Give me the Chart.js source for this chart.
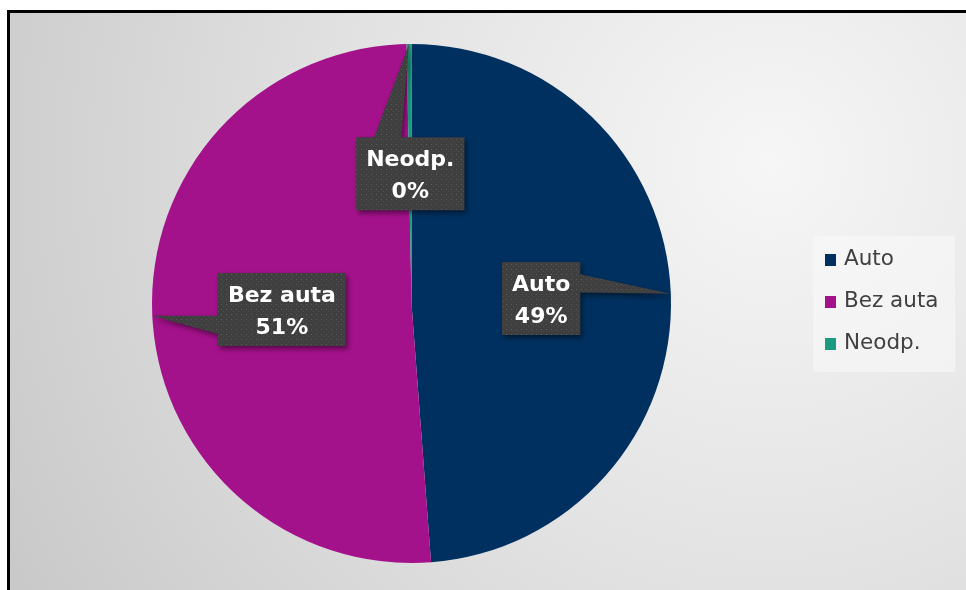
<!DOCTYPE html>
<html>
<head>
<meta charset="utf-8">
<script src="https://cdn.jsdelivr.net/npm/chart.js@4"></script>
<style>
  html, body { margin: 0; padding: 0; width: 966px; height: 590px; overflow: hidden; background: #fff; }
  #frame {
    position: absolute; left: 7px; top: 10px; width: 956px; height: 577px;
    border-left: 3px solid #000; border-top: 3px solid #000;
    background: radial-gradient(circle 950px at 760px 150px, #f6f6f6 0%, #e2e2e2 45%, #c4c4c4 100%);
  }
  #chartBox { position: absolute; left: 0; top: 0; width: 956px; height: 577px; }
  #legend {
    position: absolute; left: 803px; top: 223px; width: 142px; height: 136px;
    background: rgba(250, 250, 250, 0.55);
    font-family: "DejaVu Sans", sans-serif; font-size: 21.5px; color: #404040;
  }
  .item { position: absolute; left: 12px; height: 30px; line-height: 30px; white-space: nowrap; }
  .swatch { display: inline-block; width: 11px; height: 12px; margin-right: 8px; vertical-align: -1px; }
</style>
</head>
<body>
<div id="frame">
  <div id="chartBox"><canvas id="pieChart" width="956" height="577"></canvas></div>
  <div id="legend"></div>
</div>
<script>
const categories = ["Auto", "Bez auta", "Neodp."];
const shares = [48.8, 50.9, 0.3];
const sliceColors = ["#00305f", "#a3118b", "#1c9a7f"];

const legendEl = document.getElementById("legend");
legendEl.innerHTML = categories.map((name, i) =>
  `<div class="item" style="top:${7 + i * 42}px"><span class="swatch" style="background:${sliceColors[i]}"></span>${name}</div>`
).join("");

function dotPattern(ctx) {
  const tile = document.createElement("canvas");
  tile.width = 5;
  tile.height = 5;
  const t = tile.getContext("2d");
  t.fillStyle = "#3f3f3f";
  t.fillRect(0, 0, 5, 5);
  t.fillStyle = "#5c5c5c";
  t.fillRect(1, 1, 1, 1);
  t.fillStyle = "#4d4d4d";
  t.fillRect(3, 3, 1, 1);
  return ctx.createPattern(tile, "repeat");
}

// Excel style wedge callout: box centred halfway out, wedge points at the slice edge
const calloutPlugin = {
  id: "callouts",
  afterDatasetsDraw(chart) {
    const ctx = chart.ctx;
    const meta = chart.getDatasetMeta(0);
    const total = shares.reduce((a, b) => a + b, 0);
    const fill = dotPattern(ctx);
    const font = "bold 22px 'DejaVu Sans'";
    const lineH = 32;
    const padY = 4.5;
    const padX = 10;

    meta.data.forEach((arc, i) => {
      const p = arc.getProps(["x", "y", "startAngle", "endAngle", "outerRadius"], true);
      const mid = (p.startAngle + p.endAngle) / 2;
      const tipX = p.x + Math.cos(mid) * p.outerRadius;
      const tipY = p.y + Math.sin(mid) * p.outerRadius;
      const cx = p.x + Math.cos(mid) * p.outerRadius * 0.5;
      const cy = p.y + Math.sin(mid) * p.outerRadius * 0.5;

      const lines = [categories[i], Math.round(shares[i] / total * 100) + "%"];
      ctx.save();
      ctx.font = font;
      const w = Math.max(...lines.map(s => ctx.measureText(s).width)) + padX * 2;
      const h = lineH * 2 + padY * 2;
      const l = cx - w / 2, t = cy - h / 2, r = l + w, b = t + h;

      const dx = tipX - cx, dy = tipY - cy;
      const pts = [];
      if (Math.abs(dx) * h > Math.abs(dy) * w) {
        const y1 = t + h * (dy > 0 ? 7 / 12 : 2 / 12);
        const y2 = t + h * (dy > 0 ? 10 / 12 : 5 / 12);
        if (dx > 0) {
          pts.push([l, t], [r, t], [r, y1], [tipX, tipY], [r, y2], [r, b], [l, b]);
        } else {
          pts.push([l, t], [r, t], [r, b], [l, b], [l, y2], [tipX, tipY], [l, y1]);
        }
      } else {
        const x1 = l + w * (dx > 0 ? 7 / 12 : 2 / 12);
        const x2 = l + w * (dx > 0 ? 10 / 12 : 5 / 12);
        if (dy < 0) {
          pts.push([l, t], [x1, t], [tipX, tipY], [x2, t], [r, t], [r, b], [l, b]);
        } else {
          pts.push([l, t], [r, t], [r, b], [x2, b], [tipX, tipY], [x1, b], [l, b]);
        }
      }

      ctx.beginPath();
      pts.forEach(([px, py], k) => (k ? ctx.lineTo(px, py) : ctx.moveTo(px, py)));
      ctx.closePath();
      ctx.shadowColor = "rgba(0, 0, 0, 0.45)";
      ctx.shadowBlur = 5;
      ctx.shadowOffsetX = 2;
      ctx.shadowOffsetY = 3;
      ctx.fillStyle = fill;
      ctx.fill();
      ctx.shadowColor = "transparent";

      ctx.fillStyle = "#ffffff";
      ctx.textAlign = "center";
      ctx.textBaseline = "alphabetic";
      lines.forEach((s, k) => {
        ctx.fillText(s, cx, t + padY + lineH * k + lineH / 2 + 8);
      });
      ctx.restore();
    });
  }
};

new Chart(document.getElementById("pieChart"), {
  type: "pie",
  data: {
    labels: categories,
    datasets: [{
      data: shares,
      backgroundColor: sliceColors,
      borderWidth: 0
    }]
  },
  options: {
    responsive: false,
    animation: false,
    layout: { padding: { left: 142, right: 295, top: 31, bottom: 27 } },
    plugins: {
      legend: { display: false },
      tooltip: { enabled: false }
    }
  },
  plugins: [calloutPlugin]
});
</script>
</body>
</html>
